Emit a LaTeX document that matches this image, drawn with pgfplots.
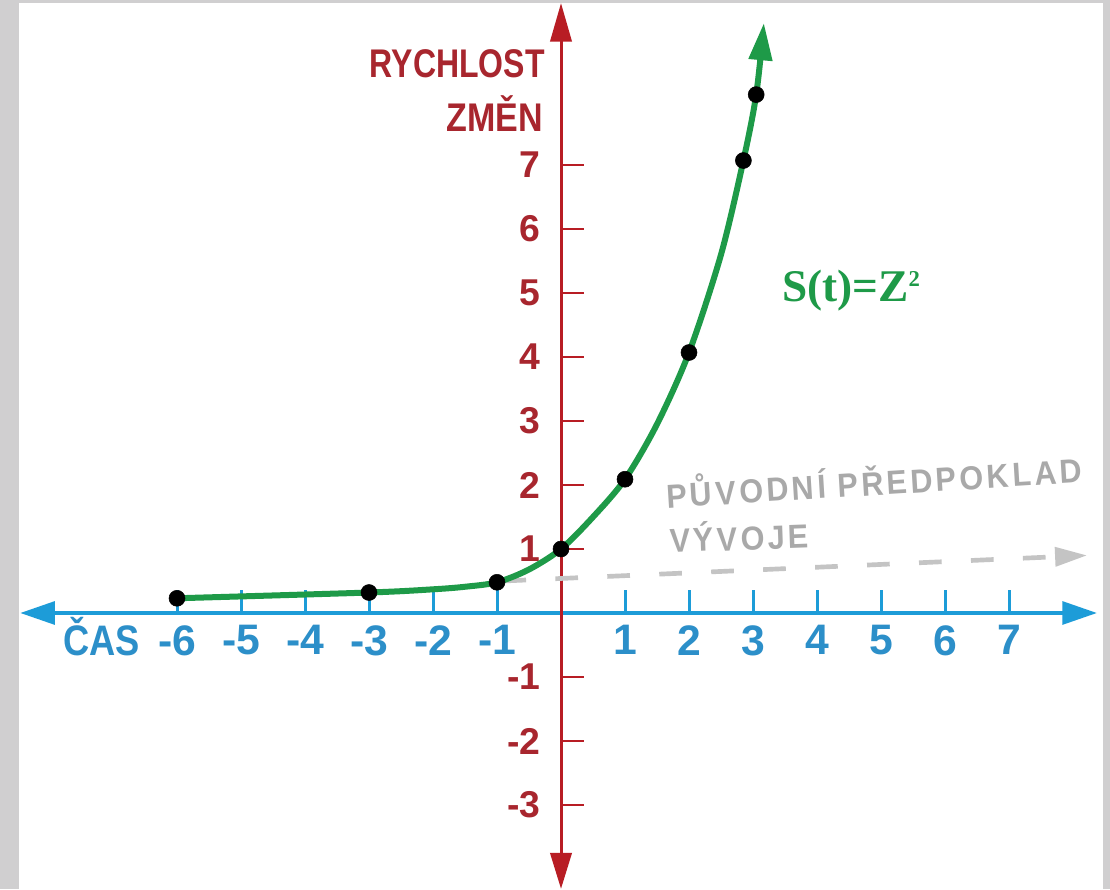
\documentclass[border=0pt]{standalone}
\usepackage{fontspec}
\setmainfont{Liberation Sans}[FakeStretch=0.85]
\newfontfamily\digfont{Liberation Sans}
\newfontfamily\grayfont{Liberation Sans}[FakeStretch=0.92,LetterSpace=10]
\newfontfamily\serifbf{Liberation Serif}
\usepackage{pgfplots}
\pgfplotsset{compat=1.18}
\usetikzlibrary{arrows.meta}
\definecolor{axred}{HTML}{B81D24}
\definecolor{lblred}{HTML}{A8262E}
\definecolor{axblue}{HTML}{1D9CD8}
\definecolor{lblblue}{HTML}{2C8FC9}
\definecolor{cgreen}{HTML}{1E9A48}
\definecolor{dashgray}{HTML}{C4C4C4}
\definecolor{txtgray}{HTML}{A9A9A9}
\definecolor{framegray}{HTML}{D0CFD0}
\begin{document}
\begin{tikzpicture}
\useasboundingbox (0,0) rectangle (832.5pt,666.75pt);
\fill[framegray] (0,0) rectangle (832.5pt,666.75pt);
\fill[white] (14.25pt,0) rectangle (827.25pt,664.5pt);
\begin{axis}[
  anchor=origin, at={(420.75pt,207pt)},
  x=48pt, y=48pt,
  xmin=-8.45, xmax=8.375, ymin=-4.31, ymax=9.53,
  enlargelimits=false, clip=false,
  axis x line=middle, axis y line=middle,
  x axis line style={axblue, line width=3pt, {Triangle[length=26pt,width=17pt]}-{Triangle[length=26pt,width=17pt]}},
  y axis line style={axred, line width=2.25pt, {Triangle[length=27pt,width=16pt]}-{Triangle[length=29pt,width=16pt]}},
  xtick={-6,-5,-4,-3,-2,-1,1,2,3,4,5,6,7},
  xticklabels={-6,-5,-4,-3,-2,-1,1,2,3,4,5,6,7},
  ytick={-3,-2,-1,1,2,3,4,5,6,7},
  yticklabels={-3,-2,-1,1,2,3,4,5,6,7},
  xtick align=inside, ytick align=inside,
  major tick length=17pt,
  x tick style={axblue, line width=2.25pt},
  y tick style={axred, line width=2pt},
  x tick label style={font=\digfont\bfseries\fontsize{32}{32}\selectfont, text=lblblue, anchor=north, inner sep=0pt, yshift=-9pt},
  y tick label style={font=\digfont\bfseries\fontsize{28}{28}\selectfont, text=lblred, anchor=east, inner sep=0pt, xshift=-15pt},
]
\addplot[dashgray, line width=3.5pt, dash pattern=on 17pt off 22pt, -{Triangle[length=24pt,width=14pt]}] coordinates {(-0.9,0.5) (8.22,0.9)};
\addplot[cgreen, line width=4.5pt, smooth, -{Triangle[length=28pt,width=17pt]}] coordinates {
(-6,0.23) (-3,0.32) (-2,0.37) (-1.5,0.41) (-1,0.48) (-0.5,0.68) (0,1) (0.5,1.5) (1,2.09) (1.5,2.95) (2,4.07) (2.5,5.6) (2.85,7.07) (3.05,8.1) (3.17,9.22)};
\addplot[only marks, mark=*, mark size=6pt, black] coordinates {
(-6,0.23) (-3,0.32) (-1,0.48) (0,1) (1,2.09) (2,4.07) (2.85,7.07) (3.05,8.1)};
\node[anchor=base east, text=lblred, font=\bfseries\fontsize{30}{30}\selectfont, inner sep=0pt] at (axis cs:-0.25,8.36) {\addfontfeature{FakeStretch=0.8}RYCHLOST};
\node[anchor=base east, text=lblred, font=\bfseries\fontsize{30}{30}\selectfont, inner sep=0pt] at (axis cs:-0.28,7.52) {ZMĚN};
\node[anchor=base east, text=lblblue, font=\bfseries\fontsize{32}{32}\selectfont, inner sep=0pt] at (axis cs:-6.58,-0.67) {ČAS};
\node[anchor=base west, text=cgreen, font=\serifbf\bfseries\fontsize{34}{34}\selectfont, inner sep=0pt] at (axis cs:3.45,4.86) {S(t)=Z\raisebox{0.33em}{\fontsize{17}{17}\selectfont 2}};
\node[anchor=base west, rotate=3.5, text=txtgray, font=\grayfont\bfseries\fontsize{25}{25}\selectfont, inner sep=0pt] at (axis cs:1.656,1.64) {PŮVODNÍ PŘEDPOKLAD};
\node[anchor=base west, rotate=2, text=txtgray, font=\grayfont\bfseries\fontsize{25}{25}\selectfont, inner sep=0pt] at (axis cs:1.70,0.94) {VÝVOJE};
\end{axis}
\end{tikzpicture}
\end{document}
